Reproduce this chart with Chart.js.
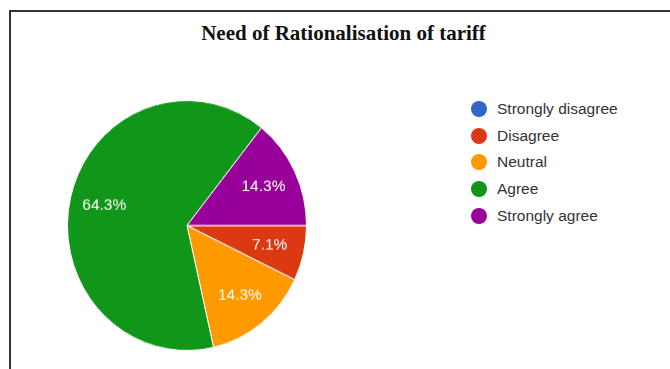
<!DOCTYPE html>
<html>
<head>
<meta charset="utf-8">
<title>Need of Rationalisation of tariff</title>
<script src="https://cdn.jsdelivr.net/npm/chart.js@4/dist/chart.umd.min.js"></script>
<style>
  html, body { margin: 0; padding: 0; background: #fff; }
  body { width: 670px; height: 369px; position: relative; overflow: hidden; }
  .frame {
    position: absolute; left: 9px; top: 10px; width: 800px; height: 500px;
    border-left: 2px solid #333; border-top: 2px solid #333;
  }
  .title {
    position: absolute; left: 0; top: 23px; width: 687px; text-align: center;
    font: bold 21px "Liberation Serif", "Times New Roman", serif; line-height: 21px; color: #111;
  }
  #pie { position: absolute; left: 67px; top: 100px; }
  .legend { position: absolute; left: 471px; top: 96px; margin: 0; padding: 0; list-style: none; }
  .legend li {
    height: 26.6px; display: flex; align-items: center;
    font: 15.5px "Liberation Sans", Arial, sans-serif; color: #333;
  }
  .legend .dot { width: 16px; height: 16px; border-radius: 50%; margin-right: 10px; flex: none; }
</style>
</head>
<body>
<div class="frame"></div>
<div class="title">Need of Rationalisation of tariff</div>
<!-- 파이는 세로로 약간 늘려서 표시 -->
<canvas id="pie" width="240" height="240" style="width:240px;height:251px"></canvas>
<ul class="legend" id="legend"></ul>

<script>
  // 응답 항목과 응답 수 (총 14명)
  const answers = ["Strongly disagree", "Disagree", "Neutral", "Agree", "Strongly agree"];
  const counts = [0, 1, 2, 9, 2];
  const colors = ["#3366cc", "#dc3912", "#ff9900", "#109618", "#990099"];

  // 조각 안쪽에 백분율 표시
  const percentLabels = {
    id: "percentLabels",
    afterDatasetsDraw(chart) {
      const { ctx } = chart;
      const meta = chart.getDatasetMeta(0);
      const data = chart.data.datasets[0].data;
      const total = data.reduce((a, b) => a + b, 0);
      ctx.save();
      ctx.fillStyle = "#fff";
      ctx.font = '15.5px "Liberation Sans", Arial, sans-serif';
      ctx.textAlign = "center";
      ctx.textBaseline = "middle";
      meta.data.forEach((arc, i) => {
        if (!data[i]) return;
        const { x, y, startAngle, endAngle, outerRadius } = arc.getProps(
          ["x", "y", "startAngle", "endAngle", "outerRadius"], true
        );
        const mid = (startAngle + endAngle) / 2;
        const r = outerRadius * 0.71;
        const pct = ((data[i] / total) * 100).toFixed(1) + "%";
        ctx.fillText(pct, x + Math.cos(mid) * r, y + Math.sin(mid) * r);
      });
      ctx.restore();
    },
  };

  function renderLegend() {
    const ul = document.getElementById("legend");
    answers.forEach((label, i) => {
      const li = document.createElement("li");
      const dot = document.createElement("span");
      dot.className = "dot";
      dot.style.background = colors[i];
      li.appendChild(dot);
      li.appendChild(document.createTextNode(label));
      ul.appendChild(li);
    });
  }

  new Chart(document.getElementById("pie").getContext("2d"), {
    type: "pie",
    data: {
      labels: answers,
      datasets: [
        {
          data: counts,
          backgroundColor: colors,
          borderColor: "#fff",
          borderWidth: 1,
        },
      ],
    },
    options: {
      responsive: false,
      animation: false,
      rotation: 90,
      layout: { padding: 0 },
      plugins: {
        legend: { display: false },
        tooltip: { enabled: false },
      },
    },
    plugins: [percentLabels],
  });

  renderLegend();
</script>
</body>
</html>
